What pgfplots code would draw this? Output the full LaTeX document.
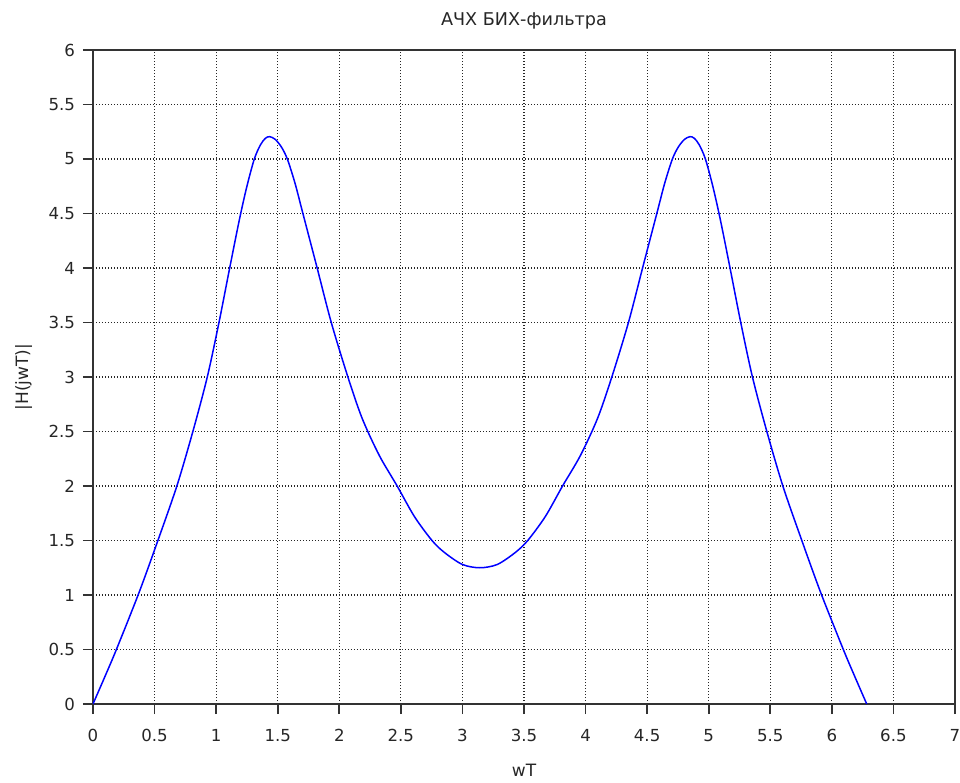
\documentclass[border=0pt]{standalone}
\usepackage{fontspec}
\setmainfont{DejaVu Sans}
\usepackage{pgfplots}
\pgfplotsset{compat=1.18}

\begin{document}
\begin{tikzpicture}
\begin{axis}[
  scale only axis, width=431pt, height=327pt,
  xmin=0, xmax=7, ymin=0, ymax=6,
  xtick={0,0.5,1,1.5,2,2.5,3,3.5,4,4.5,5,5.5,6,6.5,7},
  ytick={0,0.5,1,1.5,2,2.5,3,3.5,4,4.5,5,5.5,6},
  xtick pos=bottom, ytick pos=left,
  tick align=outside, major tick length=5pt,
  tick style={black!80, line width=0.9pt},
  axis line style={black!80, line width=0.9pt},
  grid=major,
  grid style={black!85, line width=0.6pt, dash pattern=on 0.6pt off 0.9pt},
  /pgf/number format/assume math mode=true,
  tick label style={font=\fontsize{8.3}{10}\selectfont, black!85},
  xticklabel style={yshift=-4pt},
  yticklabel style={xshift=-0.5pt},
  every axis title shift=0pt,
  title={АЧХ БИХ-фильтра},
  title style={font=\fontsize{8.8}{10}\selectfont, black!85, at={(axis description cs:0.5,1.038)}, anchor=base},
  xlabel={wT},
  xlabel style={font=\fontsize{8.5}{10}\selectfont, black!85, at={(axis description cs:0.5,-0.1116)}, anchor=base},
  ylabel={|H(jwT)|},
  ylabel style={font=\fontsize{8.5}{10}\selectfont, black!85, at={(axis description cs:-0.0754,0.5)}, anchor=base},
]
\addplot[blue, line width=0.75pt, smooth, tension=0.5] coordinates {
(0,0) (0.1,0.26) (0.19,0.5) (0.373,1.02) (0.527,1.5) (0.681,2.0) (0.811,2.5)
(0.928,3.0) (1.023,3.5) (1.11,4.0) (1.19,4.45) (1.25,4.75) (1.31,5.0)
(1.36,5.13) (1.40,5.19) (1.435,5.205) (1.48,5.18) (1.53,5.11) (1.578,5.0)
(1.64,4.78) (1.70,4.52) (1.818,4.01) (1.935,3.5) (2.07,3.0) (2.186,2.62) (2.325,2.28)
(2.47,2.0) (2.61,1.72) (2.753,1.5) (2.854,1.39) (3.0,1.28) (3.1416,1.25)
(3.2832,1.28) (3.4292,1.39) (3.5302,1.5) (3.6732,1.72) (3.8132,2.0)
(3.9582,2.28) (4.0972,2.62) (4.2132,3.0) (4.3482,3.5) (4.4652,4.01)
(4.5832,4.52) (4.6432,4.78) (4.7052,5.0) (4.7532,5.11) (4.8032,5.18) (4.8482,5.205)
(4.8832,5.19) (4.9232,5.13) (4.9732,5.0) (5.0332,4.75) (5.0932,4.45)
(5.1732,4.0) (5.2602,3.5) (5.3552,3.0) (5.4722,2.5) (5.6022,2.0)
(5.7562,1.5) (5.9102,1.02) (6.0932,0.5) (6.1832,0.26) (6.2832,0)
};
\end{axis}
\pgfresetboundingbox
\path[use as bounding box] (-46.5pt,-39.5pt) rectangle (433.5pt,352pt);
\end{tikzpicture}
\end{document}
